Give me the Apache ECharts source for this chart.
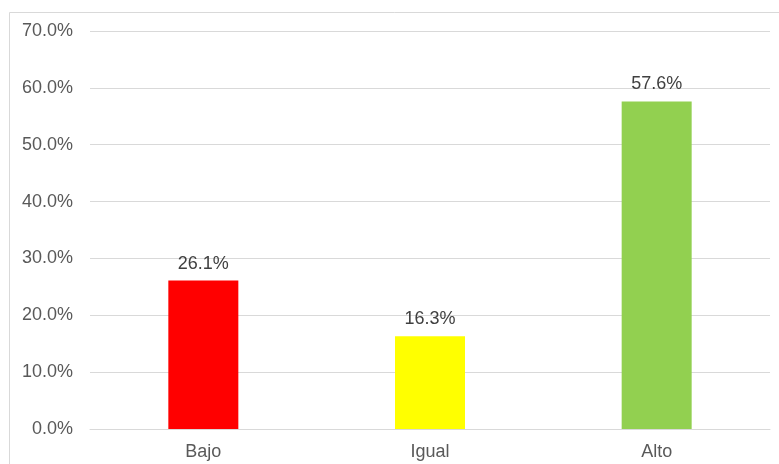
<!DOCTYPE html>
<html>
<head>
<meta charset="utf-8">
<script src="https://cdn.jsdelivr.net/npm/echarts@6/dist/echarts.min.js"></script>
<style>
html,body{margin:0;padding:0;background:#fff;}
#chart{width:779px;height:464px;}
</style>
</head>
<body>
<div id="chart"></div>
<script>
const categories = ['Bajo', 'Igual', 'Alto'];
const values = [26.1, 16.3, 57.6];
const barColors = ['#FF0000', '#FFFF00', '#92D050'];
const yTicks = [0, 10, 20, 30, 40, 50, 60, 70];

const chart = echarts.init(document.getElementById('chart'));
chart.setOption({
  animation: false,
  backgroundColor: '#ffffff',
  graphic: [{
    type: 'rect',
    shape: { x: 9.5, y: 12.5, width: 800, height: 500 },
    style: { fill: 'none', stroke: '#d9d9d9', lineWidth: 1 },
    silent: true
  }],
  grid: { left: 90, right: 9, top: 31, bottom: 35, containLabel: false },
  xAxis: {
    type: 'category',
    data: categories,
    axisLine: { lineStyle: { color: '#d9d9d9' } },
    axisTick: { show: false },
    axisLabel: { color: '#595959', fontSize: 18, fontFamily: 'Liberation Sans, Arial, sans-serif', margin: 14 }
  },
  yAxis: {
    type: 'value',
    min: yTicks[0],
    max: yTicks[yTicks.length - 1],
    interval: 10,
    axisLine: { show: false },
    axisTick: { show: false },
    splitLine: { lineStyle: { color: '#d9d9d9' } },
    axisLabel: {
      color: '#595959', fontSize: 18, fontFamily: 'Liberation Sans, Arial, sans-serif', margin: 17,
      formatter: v => v.toFixed(1) + '%'
    }
  },
  series: [{
    type: 'bar',
    barWidth: 70,
    data: values.map((v, i) => ({ value: v, itemStyle: { color: barColors[i] } })),
    label: {
      show: true,
      position: 'top',
      distance: 8,
      color: '#404040',
      fontSize: 18,
      fontFamily: 'Liberation Sans, Arial, sans-serif',
      formatter: p => p.value.toFixed(1) + '%'
    }
  }]
});
</script>
</body>
</html>
